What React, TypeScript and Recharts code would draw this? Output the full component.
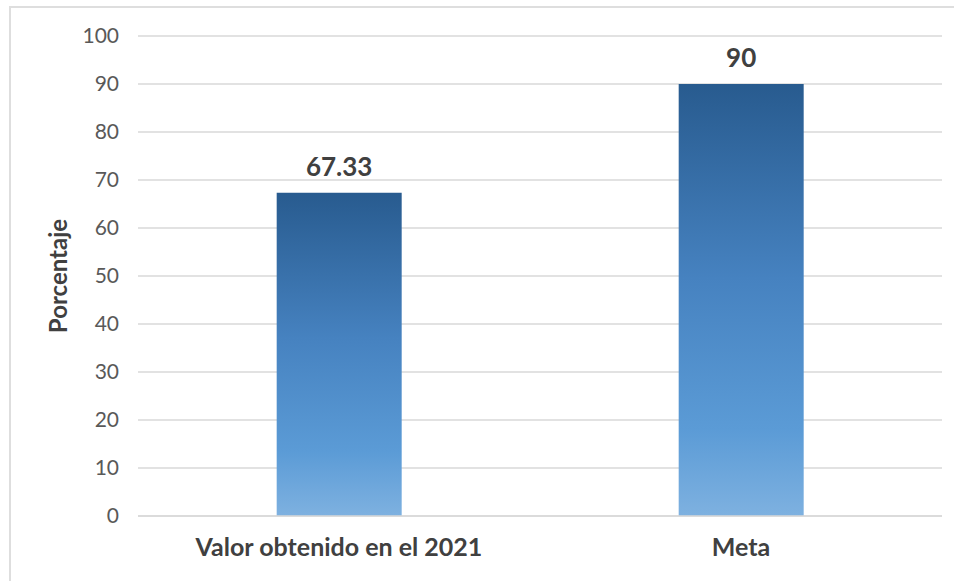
import { Bar, BarChart, CartesianGrid, LabelList, XAxis, YAxis } from "recharts";

const categories = ["Valor obtenido en el 2021", "Meta"];
const values = [67.33, 90];
const yTicks = [0, 10, 20, 30, 40, 50, 60, 70, 80, 90, 100];

const data = categories.map((name, i) => ({ name, value: values[i] }));

const font = "Lato, 'Open Sans', sans-serif";

export default function App() {
  return (
    <div style={{ position: "absolute", left: 0, top: 0, width: 954, height: 581, background: "#fff" }}>
      <div
        style={{
          position: "absolute",
          left: 9,
          top: 6,
          right: 0,
          bottom: 0,
          borderTop: "2px solid #dedede",
          borderLeft: "2px solid #dedede",
        }}
      />
      <BarChart
        width={954}
        height={581}
        data={data}
        margin={{ top: 36, right: 12, bottom: 35, left: 0 }}
        barCategoryGap="34.5%"
        style={{ position: "absolute", left: 0, top: 0, fontFamily: font }}
      >
        <defs>
          <linearGradient id="barFill" x1="0" y1="0" x2="0" y2="1">
            <stop offset="0%" stopColor="#285b8f" />
            <stop offset="45%" stopColor="#4682c0" />
            <stop offset="80%" stopColor="#5b9bd6" />
            <stop offset="100%" stopColor="#7eb1e0" />
          </linearGradient>
        </defs>
        <CartesianGrid vertical={false} stroke="#d9d9d9" strokeWidth={1.3} />
        <XAxis
          dataKey="name"
          axisLine={{ stroke: "#d9d9d9", strokeWidth: 1.3 }}
          tickLine={false}
          tickSize={0}
          tickMargin={22}
          tick={{ fill: "#404040", fontSize: 25, fontWeight: 700, fontFamily: font }}
        />
        <YAxis
          width={138}
          domain={[0, 100]}
          ticks={yTicks}
          axisLine={false}
          tickLine={false}
          tickSize={0}
          tickMargin={19}
          tick={{ fill: "#595959", fontSize: 21, fontFamily: font }}
          label={{
            value: "Porcentaje",
            angle: -90,
            position: "insideLeft",
            offset: 58,
            style: { fill: "#404040", fontSize: 24, fontWeight: 700, fontFamily: font, textAnchor: "middle" },
          }}
        />
        <Bar dataKey="value" fill="url(#barFill)" isAnimationActive={false}>
          <LabelList
            dataKey="value"
            position="top"
            offset={17}
            style={{ fill: "#404040", fontSize: 26, fontWeight: 700, fontFamily: font }}
          />
        </Bar>
      </BarChart>
    </div>
  );
}
